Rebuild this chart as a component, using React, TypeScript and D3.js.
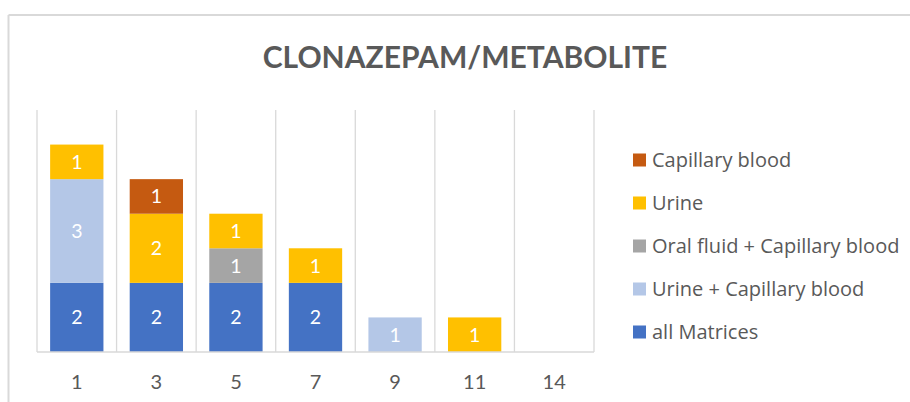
import React, { useRef, useEffect } from "react";
import * as d3 from "d3";

const categories = ["1", "3", "5", "7", "9", "11", "14"];
const allMatrices = [2, 2, 2, 2, 0, 0, 0];
const urineCapillary = [3, 0, 0, 0, 1, 0, 0];
const oralCapillary = [0, 0, 1, 0, 0, 0, 0];
const urine = [1, 2, 1, 1, 0, 1, 0];
const capillaryBlood = [0, 1, 0, 0, 0, 0, 0];

const seriesNames = [
  "all Matrices",
  "Urine + Capillary blood",
  "Oral fluid + Capillary blood",
  "Urine",
  "Capillary blood",
];
const seriesColors = ["#4472C4", "#B4C7E7", "#A5A5A5", "#FFC000", "#C55A11"];

function App() {
  const svgRef = useRef<SVGSVGElement | null>(null);

  useEffect(() => {
    const width = 910;
    const height = 402;
    const svg = d3.select(svgRef.current);
    svg.selectAll("*").remove();
    svg.attr("width", width).attr("height", height);

    const font = "Lato, 'Open Sans', sans-serif";
    const legendFont = "'Open Sans', Lato, sans-serif";

    // chart frame (right and bottom edges are cropped off)
    svg.append("line").attr("x1", 8.5).attr("x2", width).attr("y1", 15).attr("y2", 15)
      .attr("stroke", "#d9d9d9").attr("stroke-width", 2);
    svg.append("line").attr("x1", 8.5).attr("x2", 8.5).attr("y1", 15).attr("y2", height)
      .attr("stroke", "#d9d9d9").attr("stroke-width", 2);

    svg.append("text")
      .attr("x", 465)
      .attr("y", 68)
      .attr("text-anchor", "middle")
      .attr("font-family", font)
      .attr("font-weight", "bold")
      .attr("font-size", 30)
      .attr("fill", "#595959")
      .text("CLONAZEPAM/METABOLITE");

    const rows = categories.map((c, i) => ({
      cat: c,
      [seriesNames[0]]: allMatrices[i],
      [seriesNames[1]]: urineCapillary[i],
      [seriesNames[2]]: oralCapillary[i],
      [seriesNames[3]]: urine[i],
      [seriesNames[4]]: capillaryBlood[i],
    }));

    const stacked = d3.stack<any>().keys(seriesNames)(rows);

    const x = d3.scaleBand().domain(categories).range([37, 594]).paddingInner(0.33).paddingOuter(0.165);
    const xGrid = d3.scaleBand().domain(categories).range([37, 594]);
    const y = d3.scaleLinear().domain([0, 7]).range([352, 110]);

    // vertical gridlines
    const grid = svg.append("g");
    const gridX = categories.map((c) => xGrid(c) as number).concat([594]);
    grid.selectAll("line")
      .data(gridX)
      .enter()
      .append("line")
      .attr("x1", (d) => d)
      .attr("x2", (d) => d)
      .attr("y1", y(7))
      .attr("y2", y(0))
      .attr("stroke", "#d9d9d9")
      .attr("stroke-width", 1.3);

    const layers = svg.append("g")
      .selectAll("g")
      .data(stacked)
      .enter()
      .append("g")
      .attr("fill", (_d, i) => seriesColors[i]);

    layers.selectAll("rect")
      .data((d) => d.filter((p) => p[1] - p[0] > 0))
      .enter()
      .append("rect")
      .attr("x", (p: any) => x(p.data.cat) as number)
      .attr("y", (p) => y(p[1]))
      .attr("width", x.bandwidth())
      .attr("height", (p) => y(p[0]) - y(p[1]));

    layers.selectAll("text")
      .data((d) => d.filter((p) => p[1] - p[0] > 0))
      .enter()
      .append("text")
      .attr("x", (p: any) => (x(p.data.cat) as number) + x.bandwidth() / 2)
      .attr("y", (p) => (y(p[0]) + y(p[1])) / 2)
      .attr("dy", "0.36em")
      .attr("text-anchor", "middle")
      .attr("font-family", font)
      .attr("font-size", 19.5)
      .attr("fill", "#ffffff")
      .text((p) => p[1] - p[0]);

    // x axis
    const xAxis = d3.axisBottom(x).tickSize(0).tickPadding(0);
    const axisG = svg.append("g").attr("transform", `translate(0,${y(0)})`).call(xAxis);
    axisG.select(".domain").remove();
    axisG.selectAll("text")
      .attr("y", 37)
      .attr("dy", 0)
      .attr("font-family", font)
      .attr("font-size", 20)
      .attr("fill", "#595959");
    svg.append("line").attr("x1", 37).attr("x2", 594).attr("y1", y(0)).attr("y2", y(0))
      .attr("stroke", "#d9d9d9").attr("stroke-width", 1.3);

    // legend, top to bottom in reverse stack order
    const legend = svg.append("g");
    const legendItems = seriesNames.map((n, i) => ({ name: n, color: seriesColors[i] })).reverse();
    const item = legend.selectAll("g")
      .data(legendItems)
      .enter()
      .append("g")
      .attr("transform", (_d, i) => `translate(633,${160 + i * 43})`);
    item.append("rect")
      .attr("x", 0)
      .attr("y", -6.5)
      .attr("width", 13)
      .attr("height", 13)
      .attr("fill", (d) => d.color);
    item.append("text")
      .attr("x", 19)
      .attr("y", 0)
      .attr("dy", "0.36em")
      .attr("font-family", legendFont)
      .attr("font-size", 20)
      .attr("fill", "#595959")
      .text((d) => d.name);
  }, []);

  return (
    <div style={{ position: "absolute", left: 0, top: 0 }}>
      <svg ref={svgRef} style={{ display: "block" }}></svg>
    </div>
  );
}

export default App;
